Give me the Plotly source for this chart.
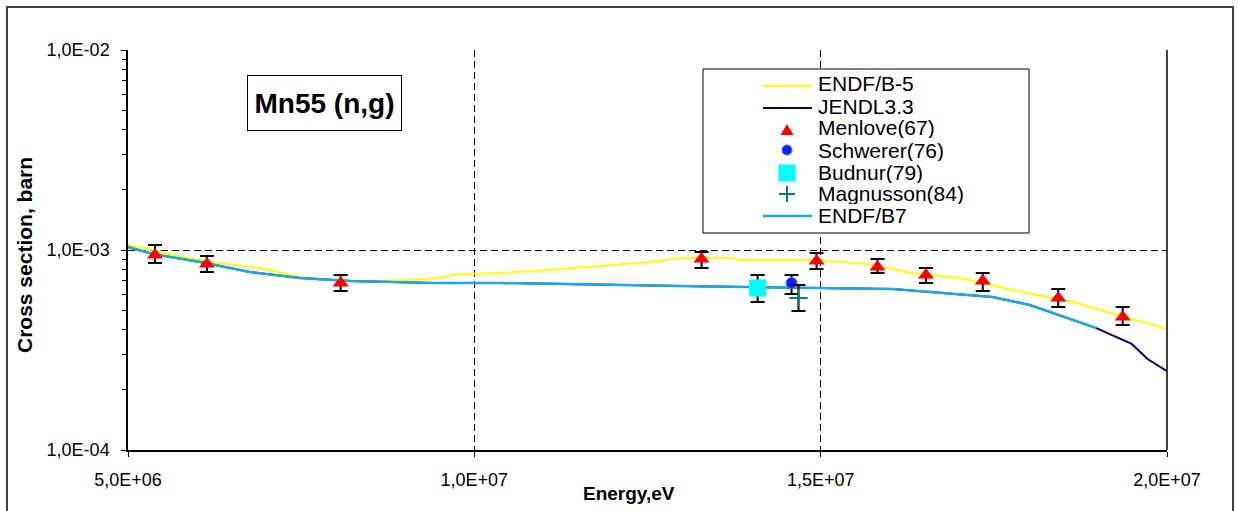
import plotly.graph_objects as go

# ---------------- data (energy in eV, cross section in barn) ----------------
endf5_E = [5.0e6, 5.36e6, 5.71e6, 6.18e6, 6.90e6, 7.48e6, 8.06e6, 8.45e6, 9.07e6, 9.46e6,
           9.79e6, 1.037e7, 1.109e7, 1.181e7, 1.253e7, 1.297e7, 1.373e7, 1.383e7, 1.488e7,
           1.566e7, 1.633e7, 1.701e7, 1.777e7, 1.864e7, 1.979e7, 2.0e7]
endf5_xs = [1.06e-3, 1.0e-3, 0.933e-3, 0.871e-3, 0.813e-3, 0.733e-3, 0.708e-3, 0.700e-3, 0.708e-3,
            0.724e-3, 0.759e-3, 0.767e-3, 0.794e-3, 0.832e-3, 0.871e-3, 0.912e-3, 0.912e-3,
            0.891e-3, 0.891e-3, 0.851e-3, 0.767e-3, 0.724e-3, 0.631e-3, 0.550e-3, 0.422e-3, 0.403e-3]

jendl_E = [5.0e6, 5.36e6, 6.04e6, 6.76e6, 7.48e6, 8.20e6, 9.40e6, 1.037e7, 1.297e7, 1.422e7,
           1.488e7, 1.604e7, 1.748e7, 1.802e7, 1.898e7, 1.949e7, 1.972e7, 2.0e7]
jendl_xs = [1.035e-3, 0.955e-3, 0.871e-3, 0.776e-3, 0.724e-3, 0.700e-3, 0.684e-3, 0.684e-3,
            0.661e-3, 0.653e-3, 0.646e-3, 0.638e-3, 0.582e-3, 0.531e-3, 0.407e-3, 0.339e-3,
            0.285e-3, 0.248e-3]

endf7_E = [5.0e6, 5.36e6, 6.04e6, 6.76e6, 7.48e6, 8.20e6, 9.40e6, 1.037e7, 1.297e7, 1.422e7,
           1.488e7, 1.604e7, 1.748e7, 1.802e7, 1.898e7]
endf7_xs = [1.035e-3, 0.955e-3, 0.871e-3, 0.776e-3, 0.724e-3, 0.700e-3, 0.684e-3, 0.684e-3,
            0.661e-3, 0.653e-3, 0.646e-3, 0.638e-3, 0.582e-3, 0.531e-3, 0.407e-3]

menlove_E = [5.39e6, 6.14e6, 8.07e6, 1.328e7, 1.494e7, 1.582e7, 1.652e7, 1.734e7, 1.843e7, 1.936e7]
menlove_xs = [0.944e-3, 0.851e-3, 0.684e-3, 0.902e-3, 0.881e-3, 0.822e-3, 0.750e-3, 0.700e-3, 0.575e-3, 0.462e-3]
menlove_hi = [1.059e-3, 0.933e-3, 0.750e-3, 0.977e-3, 0.966e-3, 0.902e-3, 0.813e-3, 0.767e-3, 0.638e-3, 0.519e-3]
menlove_lo = [0.861e-3, 0.776e-3, 0.624e-3, 0.813e-3, 0.804e-3, 0.767e-3, 0.684e-3, 0.624e-3, 0.519e-3, 0.422e-3]

schwerer_E = [1.458e7]
schwerer_xs = [0.684e-3]
schwerer_hi = [0.750e-3]
schwerer_lo = [0.603e-3]

budnur_E = [1.409e7]
budnur_xs = [0.646e-3]
budnur_hi = [0.750e-3]
budnur_lo = [0.550e-3]

magnusson_E = [1.468e7]
magnusson_xs = [0.575e-3]
magnusson_hi = [0.668e-3]
magnusson_lo = [0.495e-3]

x_ticks = [5e6, 1e7, 1.5e7, 2e7]
x_tick_text = ["5,0E+06", "1,0E+07", "1,5E+07", "2,0E+07"]
y_ticks = [1e-4, 1e-3, 1e-2]
y_tick_text = ["1,0E-04", "1,0E-03", "1,0E-02"]
y_minor = [m * 10.0 ** p for p in (-4, -3) for m in range(2, 10)]

legend_names = ["ENDF/B-5", "JENDL3.3", "Menlove(67)", "Schwerer(76)", "Budnur(79)",
                "Magnusson(84)", "ENDF/B7"]

FONT = "Liberation Sans, Arial, sans-serif"


def errs(v, hi, lo):
    return ([h - a for a, h in zip(v, hi)], [a - l for a, l in zip(v, lo)])


fig = go.Figure()

fig.add_trace(go.Scatter(x=endf5_E, y=endf5_xs, mode="lines", name=legend_names[0],
                         line=dict(color="#FFFF00", width=2), showlegend=False))
fig.add_trace(go.Scatter(x=jendl_E, y=jendl_xs, mode="lines", name=legend_names[1],
                         line=dict(color="#000080", width=2), showlegend=False))
fig.add_trace(go.Scatter(x=endf7_E, y=endf7_xs, mode="lines", name=legend_names[6],
                         line=dict(color="#1AA9E6", width=2.5), showlegend=False))

for E, v, hi, lo, name, marker in [
    (menlove_E, menlove_xs, menlove_hi, menlove_lo, legend_names[2],
     dict(symbol="triangle-up", size=14, color="#FF0000")),
    (budnur_E, budnur_xs, budnur_hi, budnur_lo, legend_names[4],
     dict(symbol="square", size=17, color="#00FFFF")),
    (schwerer_E, schwerer_xs, schwerer_hi, schwerer_lo, legend_names[3],
     dict(symbol="circle", size=11, color="#0026FF", line=dict(color="#4D6BFF", width=1))),
    (magnusson_E, magnusson_xs, magnusson_hi, magnusson_lo, legend_names[5],
     dict(symbol="cross-thin", size=13, color="#008080", line=dict(color="#008080", width=2))),
]:
    p, m = errs(v, hi, lo)
    fig.add_trace(go.Scatter(
        x=E, y=v, mode="markers", name=name, marker=marker, showlegend=False,
        error_y=dict(type="data", symmetric=False, array=p, arrayminus=m,
                     color="black", thickness=2, width=7)))

# ---------------- layout helpers (pixel -> paper) ----------------
L, R, T, B = 128, 1167, 50, 450


def px(x):
    return (x - L) / (R - L)


def py(y):
    return (B - y) / (B - T)


shapes = []
annotations = []

# outer chart border
shapes.append(dict(type="rect", xref="paper", yref="paper", x0=px(7), x1=px(1233),
                   y0=py(516), y1=py(7), line=dict(color="#404040", width=2),
                   fillcolor="rgba(0,0,0,0)", layer="below"))
# right edge of plot area
shapes.append(dict(type="line", xref="paper", yref="paper", x0=1, x1=1, y0=0, y1=1,
                   line=dict(color="black", width=1.5)))

# legend box
shapes.append(dict(type="rect", xref="paper", yref="paper", x0=px(703), x1=px(1029),
                   y0=py(233), y1=py(69), line=dict(color="black", width=1),
                   fillcolor="white", layer="above"))
row_y = [84, 106, 128, 150, 172, 193, 215]
# line glyphs
for yy, col, w in [(row_y[0] + 2, "#FFFF00", 2), (row_y[1] + 2, "#000080", 2), (row_y[6] + 1, "#1AA9E6", 2.5)]:
    shapes.append(dict(type="line", xref="paper", yref="paper", x0=px(763), x1=px(812),
                       y0=py(yy), y1=py(yy), line=dict(color=col, width=w)))
# triangle glyph
cx = 787
ty = row_y[2] + 2
shapes.append(dict(type="path", xref="paper", yref="paper",
                   path=f"M {px(cx-6.5)},{py(ty+5)} L {px(cx+6.5)},{py(ty+5)} L {px(cx)},{py(ty-6)} Z",
                   fillcolor="#FF0000", line=dict(width=0)))
# circle glyph
shapes.append(dict(type="circle", xref="paper", yref="paper", x0=px(cx - 5), x1=px(cx + 5),
                   y0=py(row_y[3] + 5), y1=py(row_y[3] - 5), fillcolor="#0026FF",
                   line=dict(color="#4D6BFF", width=1)))
# square glyph
shapes.append(dict(type="rect", xref="paper", yref="paper", x0=px(cx - 8.5), x1=px(cx + 8.5),
                   y0=py(row_y[4] + 9.5), y1=py(row_y[4] - 7.5), fillcolor="#00FFFF",
                   line=dict(width=0)))
# plus glyph
shapes.append(dict(type="line", xref="paper", yref="paper", x0=px(cx - 8), x1=px(cx + 8),
                   y0=py(row_y[5] + 1), y1=py(row_y[5] + 1), line=dict(color="#008080", width=2)))
shapes.append(dict(type="line", xref="paper", yref="paper", x0=px(cx), x1=px(cx),
                   y0=py(row_y[5] + 9), y1=py(row_y[5] - 7), line=dict(color="#008080", width=2)))

for name, yy in zip(legend_names, row_y):
    annotations.append(dict(text=name, xref="paper", yref="paper", x=px(816), y=py(yy),
                            xanchor="left", yanchor="middle", showarrow=False,
                            height=21, valign="middle",
                            font=dict(family=FONT, size=21, color="black")))

# title box
annotations.append(dict(text="<b>Mn55 (n,g)</b>", xref="paper", yref="paper",
                        x=px(324.5), y=py(103), xanchor="center", yanchor="middle",
                        showarrow=False, width=153, height=54, borderpad=0,
                        bordercolor="black", borderwidth=1, bgcolor="white",
                        font=dict(family=FONT, size=28, color="black")))
# axis titles
annotations.append(dict(text="<b>Cross section, barn</b>", xref="paper", yref="paper",
                        x=px(25), y=py(255), xanchor="center", yanchor="middle",
                        textangle=-90, showarrow=False,
                        font=dict(family=FONT, size=21, color="black")))
annotations.append(dict(text="<b>Energy,eV</b>", xref="paper", yref="paper",
                        x=px(629), y=py(493), xanchor="center", yanchor="middle",
                        showarrow=False, font=dict(family=FONT, size=19, color="black")))

fig.update_layout(
    width=1238, height=511, autosize=False,
    margin=dict(l=L, r=1238 - R, t=T, b=511 - B),
    paper_bgcolor="white", plot_bgcolor="white",
    font=dict(family=FONT, size=18, color="black"),
    showlegend=False,
    shapes=shapes, annotations=annotations,
    xaxis=dict(range=[5e6, 2e7], tickvals=x_ticks, ticktext=x_tick_text,
               showline=True, linecolor="black", linewidth=1.5,
               ticks="outside", ticklen=5, tickcolor="black", tickwidth=1,
               ticklabelstandoff=8,
               showgrid=True, gridcolor="black", gridwidth=1, griddash="7px,4px",
               zeroline=False, tickfont=dict(family=FONT, size=18, color="black")),
    yaxis=dict(type="log", range=[-4, -2], tickvals=y_ticks, ticktext=y_tick_text,
               showline=True, linecolor="black", linewidth=1.5,
               ticks="outside", ticklen=5, tickcolor="black", tickwidth=1,
               ticklabelstandoff=8,
               showgrid=True, gridcolor="black", gridwidth=1, griddash="7px,4px",
               zeroline=False, tickfont=dict(family=FONT, size=18, color="black"),
               minor=dict(tickvals=y_minor, ticks="outside", ticklen=4,
                          tickcolor="black", tickwidth=1, showgrid=False)),
)

fig.write_html("out.html")
